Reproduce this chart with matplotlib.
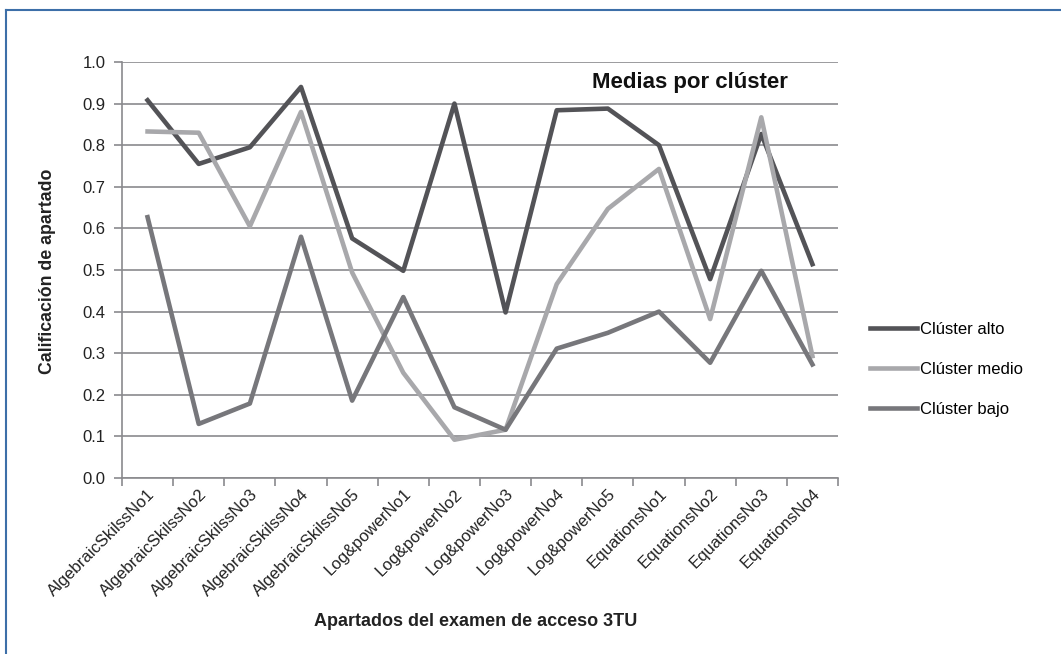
import matplotlib.pyplot as plt
from matplotlib.lines import Line2D

plt.rcParams['font.family'] = ['Liberation Sans', 'DejaVu Sans']

apartados = ["AlgebraicSkilssNo1", "AlgebraicSkilssNo2", "AlgebraicSkilssNo3",
             "AlgebraicSkilssNo4", "AlgebraicSkilssNo5", "Log&powerNo1",
             "Log&powerNo2", "Log&powerNo3", "Log&powerNo4", "Log&powerNo5",
             "EquationsNo1", "EquationsNo2", "EquationsNo3", "EquationsNo4"]

alto = [0.908, 0.755, 0.795, 0.940, 0.576, 0.498, 0.900, 0.398,
        0.884, 0.888, 0.800, 0.478, 0.827, 0.514]
medio = [0.833, 0.830, 0.605, 0.880, 0.494, 0.253, 0.092, 0.116,
         0.466, 0.647, 0.743, 0.382, 0.867, 0.293]
bajo = [0.627, 0.130, 0.179, 0.580, 0.186, 0.435, 0.170, 0.116,
        0.311, 0.349, 0.400, 0.277, 0.498, 0.273]

fig = plt.figure(figsize=(10.61, 6.54), dpi=100)
ax = fig.add_axes([122 / 1061, 1 - 478 / 654, 716 / 1061, 416 / 654])

x = range(len(apartados))
ax.plot(x, alto, color="#535357", linewidth=3.3, label="Clúster alto", zorder=3)
ax.plot(x, medio, color="#a8a8ab", linewidth=3.3, label="Clúster medio", zorder=3)
ax.plot(x, bajo, color="#77777b", linewidth=3.3, label="Clúster bajo", zorder=3)

ax.set_xlim(-0.5, len(apartados) - 0.5)
ax.set_ylim(0, 1.0)
ax.set_yticks([i / 10 for i in range(11)])
ax.set_yticklabels([f"{i / 10:.1f}" for i in range(11)], fontsize=12, color="#222222")
ax.set_xticks(list(x))
ax.set_xticklabels(apartados, rotation=45, ha="right", rotation_mode="anchor",
                   fontsize=12, color="#222222")
ax.set_xticks([i - 0.5 for i in range(len(apartados) + 1)], minor=True)
ax.tick_params(axis="x", which="major", length=0, pad=6)
ax.tick_params(axis="x", which="minor", length=6, width=1.2, color="#8a8a8d")
ax.tick_params(axis="y", length=6, width=1.2, color="#8a8a8d", pad=6)

ax.grid(axis="y", color="#8a8a8d", linewidth=1.2, zorder=1)
for s in ["top", "right"]:
    ax.spines[s].set_visible(False)
for s in ["left", "bottom"]:
    ax.spines[s].set_color("#8a8a8d")
    ax.spines[s].set_linewidth(1.2)

ax.text(0.93, 0.95, "Medias por clúster", transform=ax.transAxes, ha="right",
        va="center", fontsize=16, fontweight="bold", color="#111111")

fig.text(476 / 1061, 1 - 622 / 654, "Apartados del examen de acceso 3TU",
         ha="center", va="center", fontsize=13, fontweight="bold", color="#222222")
fig.text(48 / 1061, 1 - 271 / 654, "Calificación de apartado", rotation=90,
         ha="center", va="center", fontsize=12.8, fontweight="bold", color="#222222")

ax.legend(loc="center left", bbox_to_anchor=(1.024, 0.262), frameon=False,
          fontsize=12, handlelength=2.8, handletextpad=0.2, labelspacing=1.5)

# marco azul del recuadro
fig.add_artist(Line2D([6 / 1061, 6 / 1061], [0, 1 - 10 / 654], color="#3d6fa8",
                      linewidth=1.5, transform=fig.transFigure))
fig.add_artist(Line2D([6 / 1061, 1], [1 - 10 / 654, 1 - 10 / 654], color="#3d6fa8",
                      linewidth=1.5, transform=fig.transFigure))

plt.savefig("out.png", dpi=100)
